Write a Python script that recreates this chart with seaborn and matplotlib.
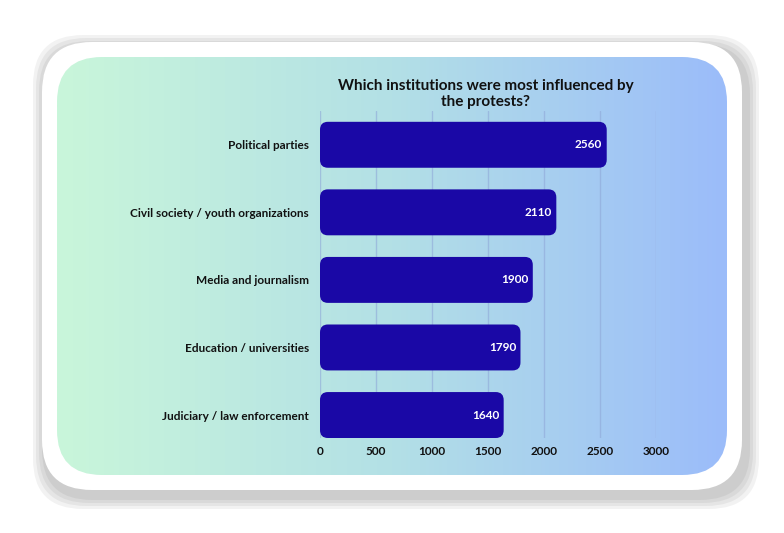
import numpy as np
import pandas as pd
import matplotlib.pyplot as plt
import seaborn as sns
from matplotlib.patches import FancyBboxPatch
from matplotlib.colors import LinearSegmentedColormap

# Data
categories = ['Political parties', 'Civil society / youth organizations', 'Media and journalism',
              'Education / universities', 'Judiciary / law enforcement']
values = [2560, 2110, 1900, 1790, 1640]
title = 'Which institutions were most influenced by\nthe protests?'
df = pd.DataFrame({'institution': categories, 'count': values})

sns.set_style('white')
plt.rcParams['font.family'] = ['Lato', 'DejaVu Sans']

W, H = 784, 533
fig = plt.figure(figsize=(W / 100, H / 100), dpi=100)

# Background: card with shadow and gradient panel
bg = fig.add_axes([0, 0, 1, 1])
bg.set_xlim(0, W)
bg.set_ylim(H, 0)
bg.axis('off')
for i, a in enumerate([0.05, 0.05, 0.05, 0.05]):
    s = 4 + i * 3
    bg.add_patch(FancyBboxPatch((42 - s + 4, 42 - s + 6), 700 + 2 * s, 448 + 2 * s,
                                boxstyle='round,pad=0,rounding_size=50',
                                fc='black', ec='none', alpha=a, zorder=1))
bg.add_patch(FancyBboxPatch((42, 42), 700, 448, boxstyle='round,pad=0,rounding_size=50',
                            fc='white', ec='none', zorder=2))
panel = FancyBboxPatch((57, 57), 670, 418, boxstyle='round,pad=0,rounding_size=45',
                       fc='none', ec='none', zorder=3)
bg.add_patch(panel)
cmap = LinearSegmentedColormap.from_list('g', ['#c9f6da', '#b3e0e6', '#9bbcfa'])
grad = np.linspace(0, 1, 256)[None, :]
im = bg.imshow(grad, cmap=cmap, extent=(57, 727, 475, 57), aspect='auto', zorder=3)
im.set_clip_path(panel)
bg.text(486, 94, title, ha='center', va='center', fontsize=11, fontweight='bold',
        color='#111111', linespacing=1.2, zorder=5)

# Chart axes
ax = fig.add_axes([320 / W, 1 - 438 / H, 336 / W, (438 - 111) / H])
ax.patch.set_alpha(0)
sns.barplot(data=df, x='count', y='institution', ax=ax, color='#1a08a6', width=0.68)
ax.set_xlim(0, 3000)
ax.set_ylim(4.34, -0.5)
ax.set_xticks(range(0, 3001, 500))
ax.grid(axis='x', color='#8fa8d8', lw=1, alpha=0.6)
ax.set_axisbelow(True)
sns.despine(ax=ax, left=True, bottom=True)
ax.set_xlabel('')
ax.set_ylabel('')
ax.tick_params(axis='both', length=0, labelsize=8.5)
ax.tick_params(axis='y', pad=8)
ax.tick_params(axis='x', pad=6)
for lab in ax.get_xticklabels() + ax.get_yticklabels():
    lab.set_fontweight('bold')
    lab.set_color('#111111')

# rounded bars
for p in list(ax.patches):
    x, y, w, h = p.get_x(), p.get_y(), p.get_width(), p.get_height()
    p.remove()
    ax.add_patch(FancyBboxPatch((x, y), w, h, boxstyle='round,pad=0,rounding_size=70',
                                mutation_aspect=0.0017, fc='#1a08a6', ec='none', zorder=3))
for i, v in enumerate(values):
    ax.text(v - 40, i, str(v), ha='right', va='center', color='white',
            fontsize=8.5, fontweight='bold', zorder=4)

fig.savefig('out.png', dpi=100)
